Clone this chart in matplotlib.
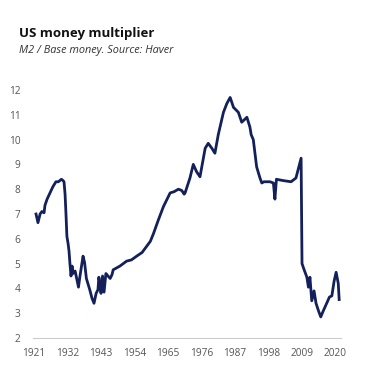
import matplotlib
matplotlib.use("Agg")
import matplotlib.pyplot as plt

title = "US money multiplier"
subtitle = "M2 / Base money. Source: Haver"

years = [1921.66, 1922.3, 1923.0, 1923.6, 1924.3, 1924.6, 1925.3, 1926.25, 1927.2, 1928.2,
         1929.0, 1930.0, 1930.5, 1930.85, 1931.2, 1931.5, 1931.8, 1932.2, 1932.5, 1932.8,
         1933.15, 1933.5, 1933.8, 1934.5, 1935.1, 1935.6, 1936.1, 1936.6, 1937.1, 1937.6,
         1938.2, 1939.3, 1940.05, 1940.7, 1941.4, 1942.0, 1942.3, 1942.6, 1943.0, 1943.5,
         1944.0, 1944.6, 1945.3, 1946.0, 1946.6, 1947.0, 1949.2, 1951.4, 1953.0, 1954.7,
         1956.5, 1958.0, 1959.2, 1960.2, 1961.8, 1963.5, 1965.7, 1967.0, 1968.4, 1969.5,
         1970.3, 1970.6, 1972.2, 1973.3, 1974.4, 1975.5, 1977.2, 1978.2, 1979.4, 1980.4,
         1981.5, 1983.2, 1984.3, 1985.4, 1986.5, 1988.1, 1989.2, 1990.9, 1991.9, 1992.3,
         1993.0, 1994.1, 1995.2, 1995.8, 1996.5, 1998.5, 1999.6, 2000.1, 2000.6, 2002.7,
         2005.4, 2007.0, 2008.7, 2009.0, 2009.7, 2010.6, 2011.1, 2011.6, 2012.2, 2012.95,
         2013.6, 2014.4, 2015.15, 2016.0, 2017.1, 2018.0, 2018.8, 2019.55, 2020.2, 2020.9,
         2021.2]
multiplier = [7.0, 6.65, 7.0, 7.1, 7.05, 7.35, 7.6, 7.85, 8.1, 8.3,
              8.3, 8.4, 8.35, 8.3, 7.8, 7.0, 6.1, 5.8, 5.5, 5.0,
              4.5, 4.9, 4.6, 4.7, 4.35, 4.05, 4.5, 4.9, 5.3, 5.05,
              4.4, 3.95, 3.6, 3.4, 3.8, 3.95, 4.45, 4.2, 3.8, 4.5,
              3.85, 4.6, 4.5, 4.4, 4.55, 4.75, 4.9, 5.1, 5.15, 5.3,
              5.45, 5.7, 5.9, 6.2, 6.75, 7.3, 7.85, 7.9, 8.0, 7.95,
              7.8, 7.85, 8.45, 9.0, 8.7, 8.5, 9.65, 9.85, 9.65, 9.45,
              10.2, 11.1, 11.45, 11.7, 11.3, 11.1, 10.7, 10.9, 10.5, 10.2,
              10.0, 8.9, 8.45, 8.25, 8.3, 8.3, 8.25, 7.6, 8.4, 8.35,
              8.3, 8.45, 9.25, 5.0, 4.75, 4.45, 4.05, 4.45, 3.5, 3.9,
              3.4, 3.1, 2.85, 3.1, 3.4, 3.65, 3.7, 4.3, 4.65, 4.2,
              3.55]

xticks = [1921, 1932, 1943, 1954, 1965, 1976, 1987, 1998, 2009, 2020]
yticks = [2, 3, 4, 5, 6, 7, 8, 9, 10, 11, 12]

plt.rcParams['font.family'] = ['Open Sans', 'DejaVu Sans']

W = H = 368
fig = plt.figure(figsize=(3.68, 3.68), dpi=100)
ax = fig.add_axes([33 / W, 1 - 338 / H, (341 - 33) / W, (338 - 90) / H])

ax.plot(years, multiplier, color='#13205a', lw=2.0, solid_joinstyle='round', clip_on=False)
ax.set_xlim(1920.67, 2021.8)
ax.set_ylim(2, 12)
ax.set_xticks(xticks)
ax.set_xticklabels([str(t) for t in xticks])
ax.set_yticks(yticks)
ax.set_yticklabels([str(t) for t in yticks])
ax.tick_params(axis='both', length=0, labelsize=7.3, colors='#555555')
ax.tick_params(axis='y', pad=9)
ax.tick_params(axis='x', pad=7)
for s in ['top', 'right', 'left']:
    ax.spines[s].set_visible(False)
ax.spines['bottom'].set_color('#cccccc')
ax.spines['bottom'].set_linewidth(0.8)

fig.text(19 / W, 1 - 33 / H, title, fontsize=9.5, fontweight='bold', color='#111111',
         va='center', ha='left')
fig.text(19 / W, 1 - 50 / H, subtitle, fontsize=7.8, style='italic', color='#333333',
         va='center', ha='left')

fig.savefig('out.png', dpi=100)
